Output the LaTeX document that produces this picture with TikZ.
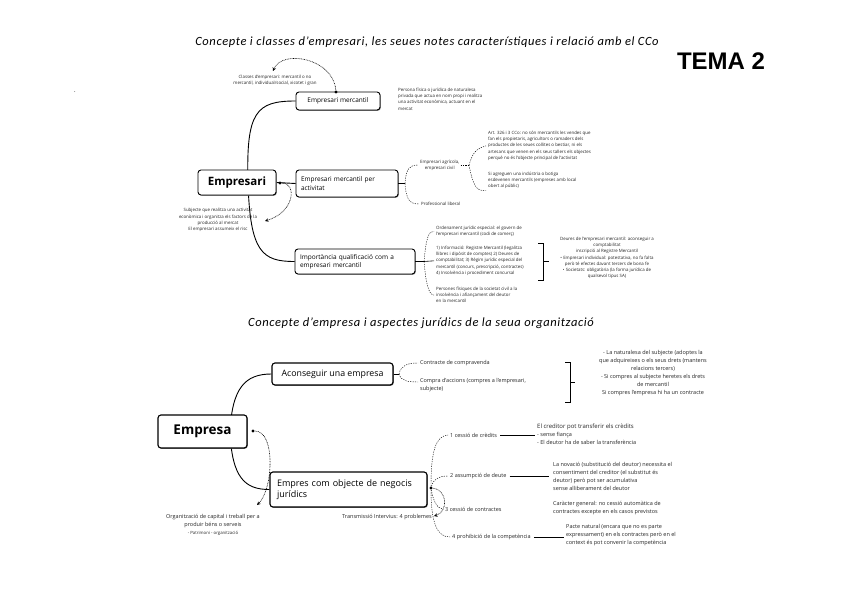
\documentclass[tikz,border=0pt]{standalone}
\usepackage{fontspec}
\setmainfont{Carlito}
\newfontfamily\ttlfont[LetterSpace=5]{Carlito}
\newfontfamily\nodefont{Open Sans}
\newfontfamily\temafont{Liberation Sans}
\usetikzlibrary{arrows.meta,shadows}
\pgfdeclarelayer{back}
\pgfdeclarelayer{bg}
\pgfsetlayers{back,bg,main}
\begin{document}
\begin{tikzpicture}[x=1pt,y=-1pt,
  mbox/.style={draw=black, line width=0.9pt, rounded corners=3pt, fill=white, inner sep=0pt, align=left,
    font=\nodefont\fontsize{6.5}{8.2}\selectfont,
    drop shadow={shadow xshift=0.8pt, shadow yshift=-0.8pt, fill=black!60, opacity=0.8}},
  heavy/.style={line width=1.15pt},
  noteA/.style={inner sep=0pt, align=left, text=black!85, font=\nodefont\fontsize{4.4}{6.2}\selectfont},
  noteB/.style={inner sep=0pt, align=left, text=black!85, font=\nodefont\fontsize{5.5}{8}\selectfont},
  ttl/.style={inner sep=0pt, font=\ttlfont\fontsize{12.5}{14}\selectfont\itshape},
  curve/.style={line width=0.9pt},
  dsh/.style={line width=0.45pt, dash pattern=on 1.2pt off 1.2pt},
  dotarr/.style={line width=0.6pt, dash pattern=on 0.8pt off 0.8pt, -{Stealth[length=3.5pt,width=3.5pt]}},
  dotstart/.style={circle, fill=black, inner sep=0pt, minimum size=3.4pt},
  lin/.style={line width=0.6pt},
]
\begin{pgfonlayer}{back}
\fill[white] (0,0) rectangle (848,599);
\end{pgfonlayer}
\useasboundingbox (0,0) rectangle (848,599);

% titles
\node[ttl] (t1) at (427,42) {Concepte i classes d’empresari, les seues notes característiques i relació amb el CCo};
\node[ttl] (t2) at (421,323) {Concepte d’empresa i aspectes jurídics de la seua organització};
\node[inner sep=0pt, font=\temafont\bfseries\fontsize{24}{24}\selectfont] (tema) at (721,61) {TEMA 2};
\node[inner sep=0pt, font=\fontsize{6}{6}\selectfont] (dot0) at (75,92) {.};

% ---------------- section 1 ----------------
\node[mbox, minimum width=78pt, minimum height=25pt, align=center,
  font=\nodefont\bfseries\fontsize{11.5}{12}\selectfont] (empresari) at (237,182.5) {Empresari};
\node[mbox, minimum width=84pt, minimum height=18pt, align=center] (em) at (338,101) {Empresari mercantil};
\node[mbox, minimum width=102pt, minimum height=27pt, text width=92pt] (emact) at (347,183.5) {Empresari mercantil per\\activitat};
\node[mbox, minimum width=120pt, minimum height=25pt, text width=110pt] (imp) at (355,261.5) {Importància qualificació com a\\empresari mercantil};

\node[noteA, align=center] (clsnote) at (275,80) {Classes d’empresari: mercantil o no\\mercantil, individual/social, xicotet i gran};
\node[noteA, anchor=north west] (mernote) at (398,88) {Persona física o jurídica de naturalesa\\privada que actua en nom propi i realitza\\una activitat econòmica, actuant en el\\mercat};
\node[noteA, align=center, anchor=west] (agr) at (420,165) {Empresari agrícola,\\empresari civil};
\node[noteA, anchor=west] (prof) at (421,204) {Professional liberal};
\node[noteA, anchor=north west] (art) at (488,131) {Art. 326 i 3 CCo: no són mercantils les vendes que\\fan els propietaris, agricultors o ramaders dels\\productes de les seues collites o bestiar, ni els\\artesans que venen en els seus tallers els objectes\\perquè no és l’objecte principal de l’activitat};
\node[noteA, anchor=north west] (sin) at (488,172) {Si agreguen una indústria o botiga\\esdevenen mercantils (empreses amb local\\obert al públic)};
\node[noteA, align=center] (subj) at (218,220) {Subjecte que realitza una activitat\\econòmica i organitza els factors de la\\producció al mercat\\El empresari assumeix el risc};
\node[noteA, anchor=north west] (impA) at (436,226) {Ordenament jurídic especial: el govern de\\l’empresari mercantil (codi de comerç)};
\node[noteA, anchor=north west] (impB) at (436,246) {1) Informació: Registre Mercantil (legalitza\\llibres i dipòsit de comptes) 2) Deures de\\comptabilitat; 3) Règim jurídic especial del\\mercantil (concurs, prescripció, contractes)\\4) Insolvència i procediment concursal};
\node[noteA, anchor=north west] (impC) at (436,287) {Persones físiques de la societat civil a la\\insolvència i afiançament del deutor\\en la mercantil};
\node[noteA, align=center, anchor=north] (deures) at (607,237) {Deures de l’empresari mercantil: aconseguir a\\comptabilitat\\inscripció al Registre Mercantil\\• Empresari individual: potestativa, no fa falta\\però té efectes davant tercers de bona fe\\• Societats: obligatòria (la forma jurídica de\\qualsevol tipus SA)};

\coordinate (c1) at (248,182);
\begin{pgfonlayer}{bg}
\draw[curve] (c1) .. controls (246,112) and (256,101) .. (em.west);
\draw[curve] (c1) .. controls (250,252) and (262,261.5) .. (imp.west);
\draw[curve] (empresari.east) -- (emact.west);
\end{pgfonlayer}

\coordinate (b1) at (405,183.5);
\draw[lin] (emact.east) -- (b1);
\draw[dsh] (b1) .. controls (406,168) and (410,165) .. ([xshift=-2pt]agr.west);
\draw[dsh] (b1) .. controls (406,200) and (410,204) .. ([xshift=-2pt]prof.west);
\coordinate (b1b) at (469,165);
\draw[dsh] ([xshift=1pt]agr.east) -- (b1b);
\draw[dsh] (b1b) .. controls (473,152) and (476,149) .. ([xshift=-2pt]art.west);
\draw[dsh] (b1b) .. controls (473,185) and (476,192) .. ([xshift=-2pt,yshift=-1pt]sin.south west);

\coordinate (b2) at (424,261.5);
\draw[lin] (imp.east) -- (b2);
\draw[lin] (b2) -- ([xshift=-2pt]impB.west);
\draw[dsh] (b2) .. controls (426,238) and (429,230) .. ([xshift=-2pt]impA.west);
\draw[dsh] (b2) .. controls (426,285) and (429,295) .. ([xshift=-2pt]impC.west);

% bracket 1
\draw[lin] (538,243) -- (543,243) -- (543,280) -- (538,280);
\draw[lin] (543,261.5) -- (549,261.5);

% dotted arrows section 1
\node[dotstart] (d1) at (336,92) {};
\coordinate (a1) at (273,71);
\draw[dotarr] (d1) .. controls (333,58) and (282,49) .. (a1);
\node[dotstart] (d2) at (280,183) {};
\coordinate (a2) at (265,221);
\draw[dotarr] (d2) .. controls (297,183) and (295,212) .. (a2);

% ---------------- section 2 ----------------
\node[mbox, heavy, minimum width=89pt, minimum height=33pt, align=center,
  font=\nodefont\bfseries\fontsize{13.5}{15}\selectfont] (empresa) at (202.5,431.5) {Empresa};
\node[mbox, heavy, minimum width=121pt, minimum height=22pt, align=center,
  font=\nodefont\fontsize{8.8}{10}\selectfont] (acons) at (332.5,374) {Aconseguir una empresa};
\node[mbox, heavy, minimum width=157pt, minimum height=35pt, text width=143pt,
  font=\nodefont\fontsize{9}{11.5}\selectfont] (negocis) at (348.5,489.5) {Empres com objecte de negocis\\jurídics};

\node[noteB, anchor=west] (cc) at (420,363) {Contracte de compravenda};
\node[noteB, anchor=north west] (ca) at (420,378) {Compra d’accions (compres a l’empresari,\\subjecte)};
\coordinate (ca1) at (418,382);
\node[noteB, align=center, anchor=north] (nat) at (653,350) {- La naturalesa del subjecte (adoptes la\\que adquireixes o els seus drets (mantens\\relacions tercers)\\- Si compres al subjecte heretes els drets\\de mercantil\\Si compres l’empresa hi ha un contracte};
\draw[lin] (565,362) -- (570,362) -- (570,402) -- (565,402);
\draw[lin] (570,382) -- (575,382);

\coordinate (b3) at (399,374);
\draw[lin] (acons.east) -- (b3);
\draw[dsh] (b3) .. controls (401,365) and (408,363) .. ([xshift=-2pt]cc.west);
\draw[dsh] (b3) .. controls (401,381) and (408,382) .. (ca1);

\node[noteB, align=center] (org) at (213,525) {Organització de capital i treball per a\\produir béns o serveis\\{\fontsize{4.3}{6}\selectfont - Patrimoni - organització}};
\node[noteB, anchor=east] (trans) at (432,517) {Transmissió Intervius: 4 problemes};

\node[noteB, anchor=west] (ces1) at (450,435) {1 cessió de crèdits};
\node[noteB, anchor=west] (ces2) at (450,476) {2 assumpció de deute};
\node[noteB, anchor=west] (ces3) at (445,509) {3 cessió de contractes};
\node[noteB, anchor=west] (ces4) at (452,537) {4 prohibició de la competència};

\node[noteB, anchor=west] (cb1) at (537,434) {{\fontsize{6}{8}\selectfont El creditor pot transferir els crèdits}\\- sense fiança\\- El deutor ha de saber la transferència};
\node[noteB, anchor=west] (cb2) at (553,476) {La novació (substitució del deutor) necessita el\\consentiment del creditor (el substitut és\\deutor) però pot ser acumulativa\\sense alliberament del deutor};
\node[noteB, anchor=west] (cb3) at (553,508) {Caràcter general: no cessió automàtica de\\contractes excepte en els casos previstos};
\node[noteB, anchor=west] (cb4) at (566,535) {Pacte natural (encara que no es parte\\expressament) en els contractes però en el\\context és pot convenir la competència};

\draw[lin, shorten <=3pt, shorten >=2pt] (ces1.east) -- (ces1.east -| cb1.west);
\draw[lin, shorten <=3pt, shorten >=4pt] (ces2.east) -- (ces2.east -| cb2.west);
\draw[lin, shorten <=3pt, shorten >=2pt] (ces4.east) -- (ces4.east -| cb4.west);

\coordinate (c2) at (230,432);
\begin{pgfonlayer}{bg}
\draw[curve] (c2) .. controls (232,388) and (245,374) .. (acons.west);
\draw[curve] (c2) .. controls (232,478) and (245,489.5) .. (negocis.west);
\end{pgfonlayer}

\node[dotstart] (d3) at (253,431) {};
\coordinate (a3) at (257,505);
\draw[dotarr] (d3) .. controls (276,431) and (273,490) .. (a3);

\node[dotstart] (d4) at (431,488) {};
\draw[dsh] (d4) .. controls (431,450) and (436,436) .. ([xshift=-2pt]ces1.west);
\draw[dsh] (d4) .. controls (433,480) and (438,476) .. ([xshift=-2pt]ces2.west);
\draw[dsh] (d4) .. controls (433,500) and (437,509) .. ([xshift=-2pt]ces3.west);
\draw[dsh] (d4) .. controls (431,525) and (438,537) .. ([xshift=-2pt]ces4.west);
\coordinate (a4) at (434,516);
\draw[dotarr] (d4) .. controls (448,490) and (448,512) .. (a4);
\end{tikzpicture}
\end{document}
